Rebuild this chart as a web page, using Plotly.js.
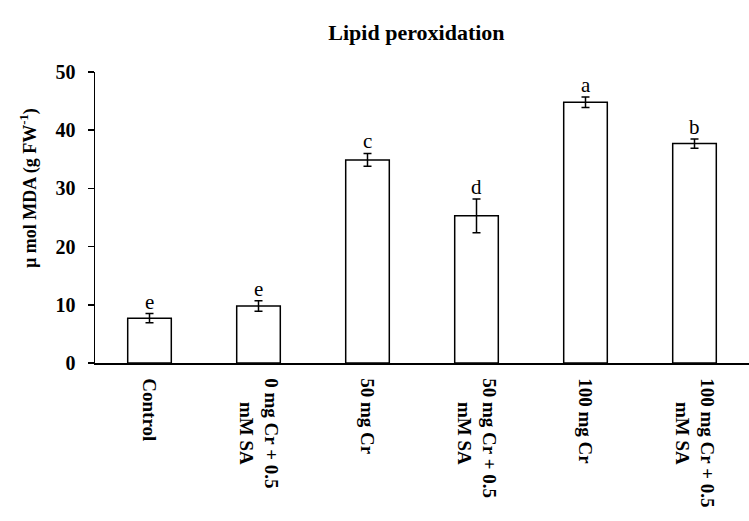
<!DOCTYPE html>
<html>
<head>
<meta charset="utf-8">
<script src="https://cdn.plot.ly/plotly-3.0.1.min.js"></script>
<style>html,body{margin:0;padding:0;background:#fff;}#chart{width:749px;height:521px;}</style>
</head>
<body>
<div id="chart"></div>
<script>
var pad = "&nbsp;&nbsp;&nbsp;&nbsp;&nbsp;";
var categories = ["Control", "0 mg Cr + 0.5<br>" + pad + "mM SA", "50 mg Cr", "50 mg Cr + 0.5<br>" + pad + "mM SA", "100 mg Cr", "100 mg Cr + 0.5<br>" + pad + "mM SA"];
var mdaValues = [7.7, 9.8, 34.9, 25.3, 44.8, 37.7];
var mdaErrors = [0.8, 0.9, 1.1, 2.9, 0.9, 0.8];
var letters = ["e", "e", "c", "d", "a", "b"];
var yTicks = [0, 10, 20, 30, 40, 50];

var serif = "Liberation Serif, Times New Roman, serif";

var trace = {
  type: "bar",
  x: categories,
  y: mdaValues,
  width: 0.4,
  marker: {color: "#ffffff", line: {color: "#000000", width: 1.5}},
  error_y: {type: "data", array: mdaErrors, visible: true, color: "#000000", thickness: 1.5, width: 4},
  hoverinfo: "skip"
};

var annotations = letters.map(function (l, i) {
  return {
    x: categories[i], y: mdaValues[i] + mdaErrors[i], xref: "x", yref: "y",
    text: l, showarrow: false, yanchor: "bottom", yshift: -2,
    font: {family: serif, size: 21, color: "#000"}
  };
});
annotations.push({
  xref: "paper", yref: "paper", x: -0.1, y: 0.6, xanchor: "center", yanchor: "middle",
  text: "<b>\u00b5 mol MDA (g FW<sup>-1</sup>)</b>", textangle: -90, showarrow: false,
  font: {family: serif, size: 18, color: "#000"}
});

var layout = {
  width: 749, height: 521,
  margin: {l: 95, r: 0, t: 72, b: 157.5},
  paper_bgcolor: "#fff", plot_bgcolor: "#fff",
  showlegend: false,
  title: {
    text: "<b>Lipid peroxidation</b>", xref: "container", yref: "container",
    x: 0.556, xanchor: "center", y: 0.938, yanchor: "middle",
    font: {family: serif, size: 22, color: "#000"}
  },
  xaxis: {
    type: "category", showline: true, linecolor: "#000", linewidth: 1.5,
    ticks: "", tickangle: 90, showgrid: false, zeroline: false,
    ticklabelstandoff: 10,
    tickfont: {family: serif, size: 19, color: "#000"},
    tickprefix: "<b>", ticksuffix: "</b>"
  },
  yaxis: {
    range: [0, 50], tickvals: yTicks, ticktext: yTicks.map(function (v) { return "<b>" + v + "</b>"; }),
    showline: true, linecolor: "#000", linewidth: 1.5,
    ticks: "outside", ticklen: 6, tickwidth: 1.5, tickcolor: "#000",
    showgrid: false, zeroline: false, ticklabelstandoff: 8,
    tickfont: {family: serif, size: 20, color: "#000"}
  },
  annotations: annotations
};

Plotly.newPlot("chart", [trace], layout, {displayModeBar: false, staticPlot: true});
</script>
</body>
</html>
